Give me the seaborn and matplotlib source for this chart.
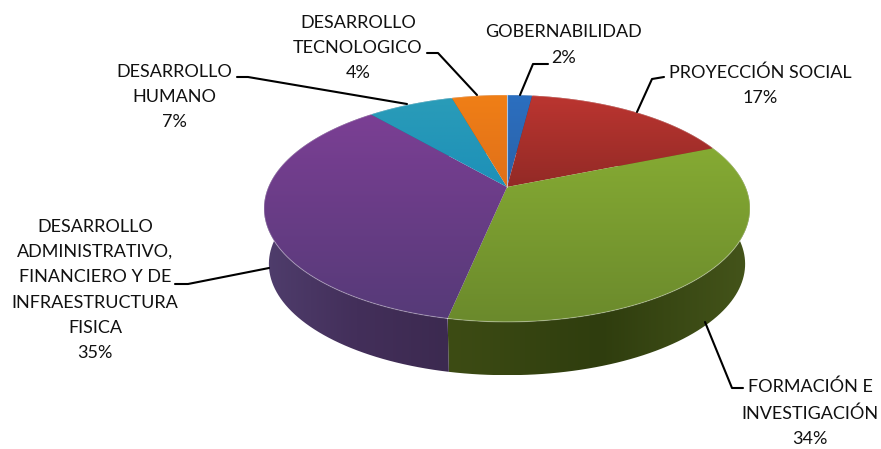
import matplotlib
matplotlib.use("Agg")
import matplotlib.pyplot as plt
from matplotlib.colors import to_rgb
from matplotlib.patches import Polygon
import seaborn as sns
import numpy as np

categories = ["GOBERNABILIDAD", "PROYECCIÓN SOCIAL", "FORMACIÓN E\nINVESTIGACIÓN",
              "DESARROLLO\nADMINISTRATIVO,\nFINANCIERO Y DE\nINFRAESTRUCTURA\nFISICA",
              "DESARROLLO\nHUMANO", "DESARROLLO\nTECNOLOGICO"]
# percentages printed on the chart are these rounded
values = [2.0, 16.8, 34.45, 35.45, 6.9, 4.4]
top_colors = [["#2c6fc0", "#2a62a8"], ["#bb3530", "#932a26"], ["#85aa33", "#6b8a2c"],
              ["#7b3f94", "#563a78"], ["#2a9cb8", "#1d90b8"], ["#f07f16", "#e0701a"]]
side_colors = [["#1c4a7c", "#1c4a7c"], ["#7d2320", "#7d2320"], ["#3d4c14", "#2f3d0e", "#44541a"],
               ["#4f3d6c", "#432f5a", "#3c2a50"], ["#1f6a80", "#1f6a80"], ["#a85410", "#a85410"]]

sns.set_style("white")
plt.rcParams["font.family"] = ["Lato", "DejaVu Sans"]

fig = plt.figure(figsize=(8.81, 4.49), dpi=100)
ax = fig.add_axes([0, 0, 1, 1])

# let pie work out the slice angles, the drawing itself is done in perspective below
wedges, _ = ax.pie(values, startangle=90, counterclock=False)
angles = [(w.theta1, w.theta2) for w in wedges]
for w in wedges:
    w.remove()

ax.set_aspect("auto")
ax.set_xlim(0, 881)
ax.set_ylim(449, 0)
ax.axis("off")

apex_x, apex_y = 507, 187
tilt, half_w, half_h = 0.189, 238.6, 109.4
thick = 56


def project(theta, drop=0.0, shrink=1.0):
    t = np.radians(theta)
    u, v = np.cos(t), np.sin(t)
    w = 1 + tilt * v
    return np.column_stack([apex_x + shrink * half_w * u / w,
                            apex_y + drop - shrink * half_h * v / w])


def gradient_fill(verts, stops, horizontal=False, z=2):
    poly = Polygon(verts, closed=True, fc="none", ec="none", transform=ax.transData)
    ax.add_patch(poly)
    x0, y0 = verts.min(axis=0)
    x1, y1 = verts.max(axis=0)
    rgb = np.array([to_rgb(c) for c in stops])
    f = np.linspace(0, 1, 64)
    pos = np.linspace(0, 1, len(stops))
    ramp = np.column_stack([np.interp(f, pos, rgb[:, k]) for k in range(3)])
    img = ramp[None, :, :] if horizontal else ramp[:, None, :]
    im = ax.imshow(img, extent=(x0, x1, y1, y0), aspect="auto", zorder=z, interpolation="bilinear")
    im.set_clip_path(poly)
    ax.set_xlim(0, 881)
    ax.set_ylim(449, 0)


# side wall first, the top face covers whatever is behind it
for i, (t0, t1) in enumerate(angles):
    th = np.linspace(t0, t1, 80)
    side = np.vstack([project(th), project(th, drop=thick, shrink=0.98)[::-1]])
    gradient_fill(side, side_colors[i], horizontal=True, z=2)

for i, (t0, t1) in enumerate(angles):
    th = np.linspace(t0, t1, 80)
    arc = project(th)
    gradient_fill(np.vstack([[apex_x, apex_y], arc]), top_colors[i], z=3)
    # soft light rim along the front edge
    ax.plot(arc[:, 0], arc[:, 1], color="white", alpha=0.3, lw=0.8, zorder=3.5)

# light seam at 12 o'clock between the orange and blue slices
seam = project(np.array([angles[0][1]]))[0]
ax.plot([apex_x, seam[0]], [apex_y, seam[1]], color="white", alpha=0.6, lw=0.8, zorder=3.5)

# (x, y) of label centre, then its leader line
label_pos = [(564, 45), (760, 85), (810, 413), (95, 290), (174, 97), (358, 48)]
leaders = [
    [(548, 64), (533, 64), (520, 95)],
    [(664, 77), (652, 79), (637, 112)],
    [(743, 388), (732, 388), (705, 322)],
    [(175, 284), (188, 284), (269, 268)],
    [(237, 77), (248, 77), (407, 104)],
    [(427, 53), (438, 53), (477, 95)],
]
pct = [f"{v:.0f}%" for v in values]
for name, p, (x, y), line in zip(categories, pct, label_pos, leaders):
    ax.text(x, y, name + "\n" + p, ha="center", va="center", fontsize=13, color="#111111", linespacing=1.72, zorder=5)
    pts = np.array(line)
    ax.plot(pts[:, 0], pts[:, 1], color="black", lw=1.5, zorder=4)

fig.savefig("out.png", dpi=100, facecolor="white")
